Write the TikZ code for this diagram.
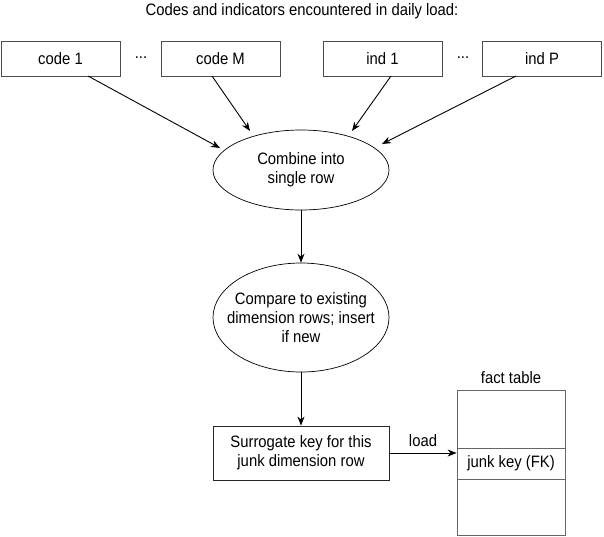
\documentclass[tikz,border=0pt]{standalone}
\usepackage{fontspec}
\setmainfont{Liberation Sans}[FakeStretch=0.9]
\usetikzlibrary{shapes.geometric,arrows.meta}
\tikzset{
  txt/.style={font=\fontsize{16.5}{19}\selectfont},
  box/.style={draw=black!70, line width=0.8pt, minimum width=119pt, minimum height=35pt, inner sep=0pt, txt},
  oval/.style={draw=black, line width=0.7pt, ellipse, minimum width=176pt, inner xsep=-14pt, inner ysep=0pt, align=center, txt},
  arr/.style={-{Stealth[length=9pt,width=7pt]}, line width=0.9pt},
  lbl/.style={inner sep=0pt, txt},
  tbl/.style={draw=black!60, line width=0.8pt}
}
\begin{document}
\begin{tikzpicture}[x=1pt,y=-1pt]
\useasboundingbox (0,0) rectangle (604,536);
\node[lbl] (title) at (302,11) {Codes and indicators encountered in daily load:};
\node[box] (c1) at (60.5,58.5) {code 1};
\node[box] (cM) at (220.5,58.5) {code M};
\node[box] (i1) at (382.5,58.5) {ind 1};
\node[box] (iP) at (542,58.5) {ind P};
\node[lbl] (d1) at (141,58) {...};
\node[lbl] (d2) at (463,58) {...};
\node[oval, minimum height=80pt] (comb) at (301,170) {Combine into\\single row};
\node[oval, minimum height=109pt] (cmp) at (301,317.5) {Compare to existing\\dimension rows; insert\\if new};
\node[box, draw=black!85, minimum width=176pt, minimum height=54pt, align=center] (sk) at (301,453) {Surrogate key for this\\junk dimension row};
\node[tbl, minimum width=108pt, minimum height=145pt, inner sep=0pt] (ft) at (511,462.5) {};
\node[tbl, minimum width=108pt, minimum height=31pt, inner sep=0pt, lbl] (fk) at (511,463.5) {junk key (FK)};
\node[lbl] (ftl) at (511,378) {fact table};
\coordinate (c1s) at (88,76);
\coordinate (cMs) at (212,76);
\coordinate (i1s) at (391,76);
\coordinate (iPs) at (516,76);
\draw[arr] (c1s) -- (220,148);
\draw[arr] (cMs) -- (250,131);
\draw[arr] (i1s) -- (352,131);
\draw[arr] (iPs) -- (382,144);
\draw[arr] (comb.south) -- (cmp.north);
\draw[arr] (cmp.south) -- (sk.north);
\draw[arr] (sk.east |- 0,453) -- node[lbl, above=6pt] (ld) {load} (ft.west |- 0,453);
\end{tikzpicture}
\end{document}
